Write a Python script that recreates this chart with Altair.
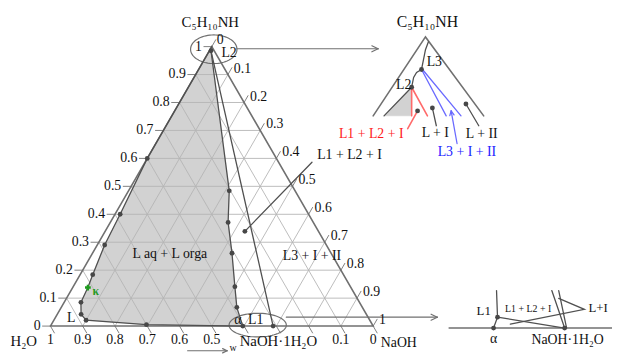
import altair as alt
import numpy as np
import pandas as pd

# ---------------- data: mass fractions (n = NaOH, p = C5H10NH) ----------------
tick_vals = [0.0, 0.1, 0.2, 0.3, 0.4, 0.5, 0.6, 0.7, 0.8, 0.9, 1.0]
tick_text = ["0", "0.1", "0.2", "0.3", "0.4", "0.5", "0.6", "0.7", "0.8", "0.9", "1"]
bottom_w = [1.0, 0.9, 0.8, 0.7, 0.6, 0.5, 0.1, 0.0]
bottom_text = ["1", "0.9", "0.8", "0.7", "0.6", "0.5", "0.1", "0"]

# binodal of the L aq + L orga region, from the amine apex down the water side to alpha
bin_naoh = [0.000, 0.000, 0.016, 0.023, 0.039, 0.047, 0.052, 0.074, 0.100, 0.295, 0.596]
bin_pip = [1.000, 0.600, 0.400, 0.290, 0.184, 0.138, 0.085, 0.042, 0.021, 0.005, 0.000]
bin_dot = [0, 1, 1, 1, 1, 0, 1, 1, 1, 1, 1]
# L1 -> L2 boundary (organic side)
tie_naoh = [0.596, 0.544, 0.501, 0.432, 0.365, 0.312, 0.005]
tie_pip = [0.000, 0.067, 0.141, 0.261, 0.371, 0.484, 0.985]
tie_dot = [0, 1, 1, 1, 1, 1, 1]
L2_pt = (0.005, 0.985)
hydrate_pt = (0.69, 0.0)
kappa_pt = (0.047, 0.138)
three_phase_pt = (0.433, 0.339)

S3 = np.sqrt(3) / 2
U = 1 / 327.0


def cart(n, p):
    return (n + p / 2.0, p * S3)


def P(X, Y):  # reference-frame location (px) -> data units
    return ((X - 51) * U, (328 - Y) * U)


XDOM = [-43 * U, -43 * U + 612 * U]
YDOM = [320 * U - 347 * U, 320 * U]

rows = []
gid = [0]


def add(pts, style):
    gid[0] += 1
    for i, (x, y) in enumerate(pts):
        rows.append(dict(g=gid[0], o=i, x=x, y=y, s=style))


def tern(ns, ps):
    return [cart(n, p) for n, p in zip(ns, ps)]


def arrow(a, b, style, head=7):
    add([a, b], style)
    ax, ay = a
    bx, by = b
    L = np.hypot(bx - ax, by - ay)
    ux, uy = (bx - ax) / L, (by - ay) / L
    h = head * U
    for s in (1, -1):
        c, sn = np.cos(0.45), s * np.sin(0.45)
        rx, ry = ux * c - uy * sn, ux * sn + uy * c
        add([(bx - h * rx, by - h * ry), b], style)


def ellipse(cx, cy, rx, ry, style):
    t = np.linspace(0, 2 * np.pi, 73)
    add([P(cx + rx * np.cos(a), cy + ry * np.sin(a)) for a in t], style)


# grid
for v in tick_vals[1:-1]:
    add([cart(0, v), cart(1 - v, v)], "grid")
    add([cart(v, 0), cart(v, 1 - v)], "grid")
    add([cart(1 - v, 0), cart(0, 1 - v)], "grid")
# ticks
tl = 8 * U
for v in tick_vals:
    x, y = cart(0, v)
    add([(x - tl, y), (x, y)], "tick")
    x, y = cart(v, 1 - v)
    add([(x, y), (x + 0.5 * tl, y + S3 * tl)], "tick")
    x, y = cart(1 - v, 0)
    add([(x, y), (x + 0.5 * tl, y - S3 * tl)], "tick")
# triangle
add([cart(0, 0), cart(1, 0), cart(0, 1), cart(0, 0)], "edge")
# dark lines
add(tern(bin_naoh, bin_pip), "dark")
add(tern(tie_naoh, tie_pip), "dark")
add([cart(*L2_pt), cart(*hydrate_pt)], "dark")
add([cart(*three_phase_pt), P(316, 162)], "dark")
# ellipses and arrows
ellipse(216.5, 47.5, 23.5, 14.5, "ell")
ellipse(261, 327, 29, 12, "ell")
arrow(P(240, 47), P(383, 47), "ell")
arrow(P(290, 319), P(443, 319), "ell")
arrow(P(190, 353), P(230, 353), "ell", head=5)

# ---- top-right inset (magnified apex) ----
add([P(378, 115), P(431, 35), P(490, 115)], "edge")
add([P(389, 115), P(417, 86)], "dark")
add([P(417, 86), P(419, 76), P(422, 71), P(427, 68)], "dark")
add([P(427, 68), P(429, 58), P(431, 48), P(434, 40)], "dark")
add([P(417, 86), P(417, 115)], "red")
add([P(417, 86), P(433, 115)], "red")
add([P(423, 110), P(413, 128)], "red")
add([P(427, 68), P(452, 115)], "blue")
add([P(428, 68), P(467, 115)], "blue")
arrow(P(463, 143), P(457, 110), "blue", head=5)
add([P(442, 125), P(438, 107)], "dark")
add([P(485, 125), P(472, 103)], "dark")

# ---- bottom-right inset (magnified alpha corner) ----
add([P(455, 330), P(620, 330)], "edge")
add([P(503, 292), P(504, 319), P(500, 330)], "dark")
add([P(504, 319), P(572, 330)], "dark")
add([P(559, 292), P(572, 330)], "dark")
add([P(566, 292), P(574, 330)], "dark")
add([P(566, 300), P(592, 311), P(517, 326)], "dark")

seg = pd.DataFrame(rows)

xs = alt.X("x:Q", scale=alt.Scale(domain=XDOM, nice=False, zero=False), axis=None)
ys = alt.Y("y:Q", scale=alt.Scale(domain=YDOM, nice=False, zero=False), axis=None)

styles = {
    "grid": dict(color="#b4b4b4", strokeWidth=0.9),
    "tick": dict(color="#808080", strokeWidth=1.0),
    "edge": dict(color="#707070", strokeWidth=1.6),
    "dark": dict(color="#505050", strokeWidth=1.3),
    "ell": dict(color="#707070", strokeWidth=1.2),
    "red": dict(color="#ff6a6a", strokeWidth=1.6),
    "blue": dict(color="#6a6aff", strokeWidth=1.3),
}

# gray two-liquid region
poly = tern(bin_naoh, bin_pip) + tern(tie_naoh, tie_pip)[1:]
gray_df = pd.DataFrame([dict(x=x, y=y, o=i) for i, (x, y) in enumerate(poly)])
gray2 = [P(389, 115), P(416, 115), P(417, 86)]
gray2_df = pd.DataFrame([dict(x=x, y=y, o=i) for i, (x, y) in enumerate(gray2)])

layers = [
    alt.Chart(gray_df).mark_line(fill="#d2d2d2", stroke="#d2d2d2", strokeWidth=0.5).encode(x=xs, y=ys, order="o:Q"),
    alt.Chart(gray2_df).mark_line(fill="#d2d2d2", stroke="#d2d2d2", strokeWidth=0.5).encode(x=xs, y=ys, order="o:Q"),
]
for st in ["grid", "tick", "edge", "ell", "dark", "red", "blue"]:
    d = seg[seg.s == st]
    layers.append(
        alt.Chart(d).mark_line(strokeCap="round", **styles[st]).encode(
            x=xs, y=ys, detail="g:N", order="o:Q"
        )
    )

# dots
dots = []
for (n, p), f in zip(zip(bin_naoh, bin_pip), bin_dot):
    if f:
        dots.append(cart(n, p))
for (n, p), f in zip(zip(tie_naoh, tie_pip), tie_dot):
    if f:
        dots.append(cart(n, p))
dots += [cart(*hydrate_pt), cart(*three_phase_pt)]
dots += [P(417, 86), P(427, 68), P(438, 107), P(472, 103), P(423, 110)]
dots += [P(500, 330), P(504, 319), P(572, 330)]
dot_df = pd.DataFrame(dots, columns=["x", "y"])
layers.append(alt.Chart(dot_df).mark_circle(size=24, color="#474747", opacity=1).encode(x=xs, y=ys))
kdf = pd.DataFrame([cart(*kappa_pt)], columns=["x", "y"])
layers.append(alt.Chart(kdf).mark_point(shape="cross", size=34, filled=True, color="#1f9a1f", opacity=1).encode(x=xs, y=ys))

# texts
texts = []


def T(pos, s, size=14, align="center", color="#111111", weight="normal"):
    texts.append(dict(x=pos[0], y=pos[1], t=s, size=size, align=align, color=color, weight=weight))


for v, s in zip(tick_vals, tick_text):
    x, y = cart(0, v)
    T((x - 10 * U, y), s, 14, "right")
    x, y = cart(v, 1 - v)
    if v == 0:
        T((x + 5 * U, y + 7 * U), s, 14, "left")
    else:
        T((x + 6 * U, y + 6 * U), s, 14, "left")
for v, s in zip(bottom_w, bottom_text):
    x, y = cart(1 - v, 0)
    T((x, y - 14 * U), s, 14)

T(P(213, 20), "C₅H₁₀NH", 15)
T(P(232, 51), "L2", 14)
T(P(172, 255), "L aq + L orga", 14)
T(P(316, 257), "L3 + I + II", 14)
T(P(354, 155), "L1 + L2 + I", 14)
T(P(72, 320), "L", 14)
T(P(97, 292), "κ", 12, color="#1f9a1f", weight="bold")
T(P(241, 322), "α", 14)
T(P(259, 322), "L1", 14)
T(P(24, 343), "H₂O", 15)
T(P(404, 345), "NaOH", 14)
T(P(282, 343), "NaOH·1H₂O", 15)
T(P(236, 350), "w", 10)

T(P(433, 20), "C₅H₁₀NH", 16)
T(P(440, 60), "L3", 14)
T(P(409, 84), "L2", 14)
T(P(376, 133), "L1 + L2 + I", 14, color="#ff1a1a")
T(P(441, 132), "L + I", 14)
T(P(488, 133), "L + II", 14)
T(P(473, 152), "L3 + I + II", 14, color="#2222ff")

T(P(490, 313), "L1", 13)
T(P(535, 311), "L1 + L2 + I", 10)
T(P(606, 310), "L+I", 13)
T(P(500, 341), "α", 14)
T(P(575, 342), "NaOH·1H₂O", 14)

tdf = pd.DataFrame(texts)
for (size, align, color, weight), d in tdf.groupby(["size", "align", "color", "weight"]):
    layers.append(
        alt.Chart(d).mark_text(
            font="Liberation Serif", fontSize=int(size), align=align, baseline="middle",
            color=color, fontWeight=weight,
        ).encode(x=xs, y=ys, text="t:N")
    )

chart = alt.layer(*layers).properties(
    width=612, height=347, padding=0,
    autosize=alt.AutoSizeParams(type="none"),
).configure_view(stroke=None)

chart.save("out.html", embed_options={"renderer": "svg", "actions": False})
